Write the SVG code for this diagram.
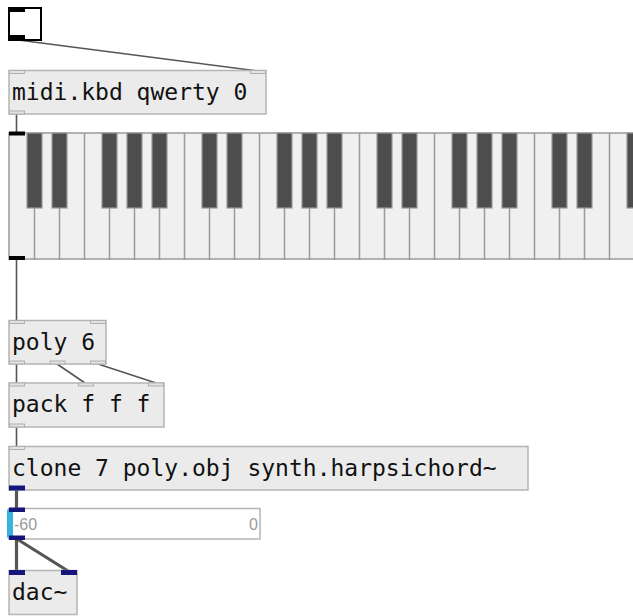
<svg xmlns="http://www.w3.org/2000/svg" width="633" height="616" viewBox="0 0 633 616">
<style>
.box{fill:#ebebeb;stroke:#b4b4b4;stroke-width:1.5}
.io{fill:#e2e2e2;stroke:#b0b0b0;stroke-width:1}
.sig{fill:#15157a}
.txt{font-family:"DejaVu Sans Mono",monospace;font-size:23px;fill:#111}
.ctl{stroke:#555;stroke-width:1.6;fill:none}
.sc{stroke:#555;stroke-width:3.2;fill:none}
.wl{stroke:#9a9a9a;stroke-width:1.5}
.bk{fill:#4d4d4d;stroke:#9a9a9a;stroke-width:1.2}
.st{font-family:"Liberation Sans",Arial,sans-serif;font-size:16px;fill:#9a9a9a}
</style>
<rect width="633" height="616" fill="#ffffff"/>
<g id="connectors">
<line class="ctl" x1="18" y1="40" x2="258" y2="71"/>
<line class="ctl" x1="16.5" y1="114" x2="16.5" y2="132"/>
<line class="ctl" x1="16.5" y1="259" x2="16.5" y2="320"/>
<line class="ctl" x1="16.5" y1="364" x2="16.5" y2="383"/>
<line class="ctl" x1="57" y1="364" x2="85" y2="383"/>
<line class="ctl" x1="98" y1="364" x2="156" y2="383"/>
<line class="ctl" x1="16.5" y1="427" x2="16.5" y2="447"/>
<line class="sc" x1="16.5" y1="490" x2="16.5" y2="508"/>
<line class="sc" x1="16.5" y1="539" x2="16.5" y2="571"/>
<line class="sc" x1="17" y1="539" x2="68" y2="571"/>
</g>
<g id="toggle">
<rect x="9" y="8" width="32" height="32" fill="#fff" stroke="#000" stroke-width="2"/>
<rect x="9" y="7" width="16" height="5" fill="#000"/>
<rect x="9" y="35" width="16" height="5" fill="#000"/>
</g>
<g id="midikbd">
<rect class="box" x="9" y="70.5" width="257" height="43.5"/>
<rect class="io" x="9.5" y="70.5" width="15" height="3"/>
<rect class="io" x="250.5" y="70.5" width="15" height="3"/>
<rect class="io" x="9.5" y="111" width="15" height="3"/>
<text class="txt" x="12" y="100">midi.kbd qwerty 0</text>
</g>
<g id="keyboard">
<rect x="9" y="133" width="640" height="126" fill="#f0f0f0" stroke="#9a9a9a" stroke-width="1.5"/>
<g class="wl">
<line x1="34.5" y1="133" x2="34.5" y2="260"/><line x1="59.5" y1="133" x2="59.5" y2="260"/>
<line x1="84.5" y1="133" x2="84.5" y2="260"/><line x1="109.5" y1="133" x2="109.5" y2="260"/>
<line x1="134.5" y1="133" x2="134.5" y2="260"/><line x1="159.5" y1="133" x2="159.5" y2="260"/>
<line x1="184.5" y1="133" x2="184.5" y2="260"/><line x1="209.5" y1="133" x2="209.5" y2="260"/>
<line x1="234.5" y1="133" x2="234.5" y2="260"/><line x1="259.5" y1="133" x2="259.5" y2="260"/>
<line x1="284.5" y1="133" x2="284.5" y2="260"/><line x1="309.5" y1="133" x2="309.5" y2="260"/>
<line x1="334.5" y1="133" x2="334.5" y2="260"/><line x1="359.5" y1="133" x2="359.5" y2="260"/>
<line x1="384.5" y1="133" x2="384.5" y2="260"/><line x1="409.5" y1="133" x2="409.5" y2="260"/>
<line x1="434.5" y1="133" x2="434.5" y2="260"/><line x1="459.5" y1="133" x2="459.5" y2="260"/>
<line x1="484.5" y1="133" x2="484.5" y2="260"/><line x1="509.5" y1="133" x2="509.5" y2="260"/>
<line x1="534.5" y1="133" x2="534.5" y2="260"/><line x1="559.5" y1="133" x2="559.5" y2="260"/>
<line x1="584.5" y1="133" x2="584.5" y2="260"/><line x1="609.5" y1="133" x2="609.5" y2="260"/>
</g>
<g class="bk">
<rect x="27" y="133" width="15" height="75"/><rect x="52" y="133" width="15" height="75"/>
<rect x="102" y="133" width="15" height="75"/><rect x="127" y="133" width="15" height="75"/>
<rect x="152" y="133" width="15" height="75"/><rect x="202" y="133" width="15" height="75"/>
<rect x="227" y="133" width="15" height="75"/><rect x="277" y="133" width="15" height="75"/>
<rect x="302" y="133" width="15" height="75"/><rect x="327" y="133" width="15" height="75"/>
<rect x="377" y="133" width="15" height="75"/><rect x="402" y="133" width="15" height="75"/>
<rect x="452" y="133" width="15" height="75"/><rect x="477" y="133" width="15" height="75"/>
<rect x="502" y="133" width="15" height="75"/><rect x="552" y="133" width="15" height="75"/>
<rect x="577" y="133" width="15" height="75"/><rect x="627" y="133" width="15" height="75"/>
</g>
<rect x="9" y="131.5" width="16" height="4" fill="#000"/>
<rect x="9" y="256" width="16" height="4" fill="#000"/>
</g>
<g id="poly">
<rect class="box" x="9" y="320.5" width="97" height="43.5"/>
<rect class="io" x="9.5" y="320.5" width="15" height="3"/>
<rect class="io" x="90.5" y="320.5" width="15" height="3"/>
<rect class="io" x="9.5" y="361" width="15" height="3"/>
<rect class="io" x="50" y="361" width="15" height="3"/>
<rect class="io" x="90.5" y="361" width="15" height="3"/>
<text class="txt" x="12" y="350">poly 6</text>
</g>
<g id="pack">
<rect class="box" x="9" y="383" width="155" height="44"/>
<rect class="io" x="9.5" y="383" width="15" height="3"/>
<rect class="io" x="78.5" y="383" width="15" height="3"/>
<rect class="io" x="148.5" y="383" width="15" height="3"/>
<rect class="io" x="9.5" y="424" width="15" height="3"/>
<text class="txt" x="12" y="412">pack f f f</text>
</g>
<g id="clone">
<rect class="box" x="9" y="446.5" width="519" height="43.5"/>
<rect class="io" x="9.5" y="446.5" width="15" height="3"/>
<rect class="sig" x="9" y="485.5" width="16" height="5"/>
<text class="txt" x="12" y="476">clone 7 poly.obj synth.harpsichord~</text>
</g>
<g id="slider">
<rect x="9" y="508.5" width="251" height="30.5" fill="#fff" stroke="#b4b4b4" stroke-width="1.5"/>
<rect x="7" y="509" width="6" height="29" rx="1.5" fill="#38b2df"/>
<rect class="sig" x="9" y="507.5" width="16" height="4.5"/>
<rect class="sig" x="9" y="535.5" width="16" height="4.5"/>
<text class="st" x="14" y="529.5">-60</text>
<text class="st" x="258" y="529.5" text-anchor="end">0</text>
</g>
<g id="dac">
<rect class="box" x="9" y="570.5" width="68" height="44"/>
<rect class="sig" x="9" y="570" width="16" height="5"/>
<rect class="sig" x="61" y="570" width="16" height="5"/>
<text class="txt" x="12" y="600">dac~</text>
</g>
</svg>
